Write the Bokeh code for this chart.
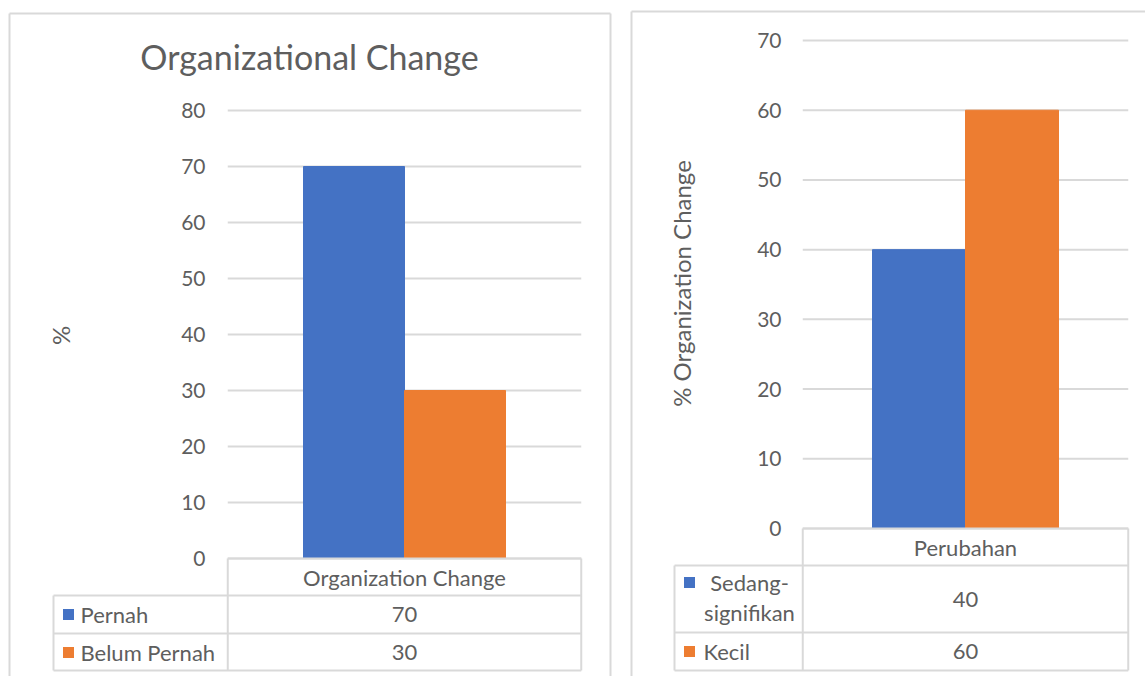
import math
from bokeh.plotting import figure
from bokeh.layouts import row
from bokeh.models import Range1d, ColumnDataSource
from bokeh.core.properties import value
from bokeh.embed import file_html
from bokeh.resources import INLINE

# ---------------- data ----------------
left_title = "Organizational Change"
left_category = "Organization Change"
left_series = ["Pernah", "Belum Pernah"]
left_values = [70, 30]
left_ticks = [0, 10, 20, 30, 40, 50, 60, 70, 80]
left_ylabel = "%"

right_title = ""
right_category = "Perubahan"
right_series = ["Sedang-signifikan", "Kecil"]
right_values = [40, 60]
right_ticks = [0, 10, 20, 30, 40, 50, 60, 70]
right_ylabel = "% Organization Change"

series_colors = ["#4472C4", "#ED7D31"]

# ---------------- style ----------------
TEXT = "#5E5E5E"
GRID = "#D9D9D9"
FONT = "Lato"
TICK_SIZE = "21px"
TABLE_SIZE = "22px"
PAGE_TOP = 0
FIG_H = 676


def build(title, category, series, values, ticks, ylabel, L):
    cx, bw = L["center_x"], L["bar_px"]
    zy, ppu = L["zero_y"], L["px_per_unit"]

    def X(px):
        return (px - cx) / bw

    def Y(py):
        return (zy - py) / ppu

    p = figure(width=L["fig_w"], height=FIG_H, output_backend="svg",
               toolbar_location=None,
               x_range=Range1d(X(L["fig_x"]), X(L["fig_x"] + L["fig_w"])),
               y_range=Range1d(Y(PAGE_TOP + FIG_H), Y(PAGE_TOP)),
               min_border=0, min_border_left=0, min_border_right=0,
               min_border_top=0, min_border_bottom=0)
    p.xaxis.visible = False
    p.yaxis.visible = False
    p.xgrid.visible = False
    p.ygrid.visible = False
    p.outline_line_color = None
    p.background_fill_color = "white"
    p.border_fill_color = "white"

    # chart box border
    bl, br, bt = L["box_left"], L["box_right"], L["box_top"]
    p.multi_line(xs=[[X(bl), X(bl)], [X(bl), X(br)], [X(br), X(br)]],
                 ys=[[Y(bt), Y(800)], [Y(bt), Y(bt)], [Y(bt), Y(800)]],
                 line_color=GRID, line_width=2)

    half = L["plot_half"]
    # gridlines
    p.segment(x0=[-half] * len(ticks), x1=[half] * len(ticks),
              y0=ticks, y1=ticks, line_color=GRID, line_width=2)
    # tick labels
    p.text(x=[X(L["tick_x"])] * len(ticks), y=ticks, text=[str(t) for t in ticks],
           text_align="right", text_baseline="middle", text_color=TEXT,
           text_font=value(FONT), text_font_size=TICK_SIZE)

    # bars
    n = len(values)
    xs = [i - (n - 1) / 2 for i in range(n)]
    src = ColumnDataSource(dict(x=xs, top=values, color=series_colors[:n]))
    p.vbar(x="x", width=1.0, top="top", bottom=0, fill_color="color",
           line_color="color", source=src)

    # title
    if title:
        p.text(x=[X(L["title_x"])], y=[Y(L["title_y"])], text=[title],
               text_align="center", text_baseline="middle", text_color=TEXT,
               text_font=value(FONT), text_font_size="34px")

    # y label
    p.text(x=[X(L["ylabel_x"])], y=[Y(L["ylabel_y"])], text=[ylabel],
           angle=math.pi / 2, text_align="center", text_baseline="middle",
           text_color=TEXT, text_font=value(FONT), text_font_size="24px")

    # data table
    rows = L["rows"]  # page y: header top, header bottom, row1 bottom, row2 bottom
    tl = X(L["table_left"])
    yh0, yh1, yr1, yr2 = [Y(r) for r in rows]
    hx = [[-half, half], [-half, -half], [half, half],
          [tl, half], [tl, half], [tl, half], [tl, tl]]
    hy = [[yh0, yh0], [yh0, yr2], [yh0, yr2],
          [yh1, yh1], [yr1, yr1], [yr2, yr2], [yh1, yr2]]
    p.multi_line(xs=hx, ys=hy, line_color=GRID, line_width=2)

    p.text(x=[0], y=[(yh0 + yh1) / 2], text=[category], text_align="center",
           text_baseline="middle", text_color=TEXT, text_font=value(FONT),
           text_font_size=TABLE_SIZE)
    row_mid = [(yh1 + yr1) / 2, (yr1 + yr2) / 2]
    p.text(x=[0, 0], y=row_mid, text=[str(v) for v in values], text_align="center",
           text_baseline="middle", text_color=TEXT, text_font=value(FONT),
           text_font_size=TABLE_SIZE)

    # legend keys and row labels
    key_y = [Y(k) for k in L["key_y"]]
    p.scatter(x=[X(L["key_x"])] * n, y=key_y, marker="square", size=11,
              fill_color=series_colors[:n], line_color=None)
    for i, name in enumerate(series):
        lab = L["labels"][i]
        if lab["wrap"]:
            parts = name.split("-")
            lines = [parts[0] + "-", parts[1]]
            p.text(x=[X(lab["x"])] * 2, y=[Y(v) for v in lab["ys"]], text=lines,
                   text_align="center", text_baseline="middle", text_color=TEXT,
                   text_font=value(FONT), text_font_size=TABLE_SIZE)
        else:
            p.text(x=[X(lab["x"])], y=[Y(lab["ys"][0])], text=[name],
                   text_align="left", text_baseline="middle", text_color=TEXT,
                   text_font=value(FONT), text_font_size=TABLE_SIZE)
    return p


left_layout = dict(
    fig_x=0, fig_w=628, center_x=404, bar_px=101, zero_y=558, px_per_unit=5.6,
    plot_half=1.75, box_left=9, box_right=610, box_top=13,
    tick_x=205, title_x=309, title_y=56, ylabel_x=60, ylabel_y=335,
    rows=[558, 595, 633, 670], table_left=53, key_x=68,
    key_y=[614, 652],
    labels=[dict(wrap=False, x=80, ys=[614]), dict(wrap=False, x=80, ys=[652])],
)

right_layout = dict(
    fig_x=628, fig_w=517, center_x=965, bar_px=93, zero_y=528, px_per_unit=488 / 70,
    plot_half=1.75, box_left=631, box_right=1400, box_top=11,
    tick_x=781, title_x=965, title_y=20, ylabel_x=681, ylabel_y=283,
    rows=[528, 565, 632, 670], table_left=674, key_x=689,
    key_y=[582, 651],
    labels=[dict(wrap=True, x=749, ys=[582, 612]), dict(wrap=False, x=703, ys=[651])],
)

p1 = build(left_title, left_category, left_series, left_values, left_ticks,
           left_ylabel, left_layout)
p2 = build(right_title, right_category, right_series, right_values, right_ticks,
           right_ylabel, right_layout)

layout = row(p1, p2, spacing=0)
open("out.html", "w").write(file_html(layout, INLINE))
